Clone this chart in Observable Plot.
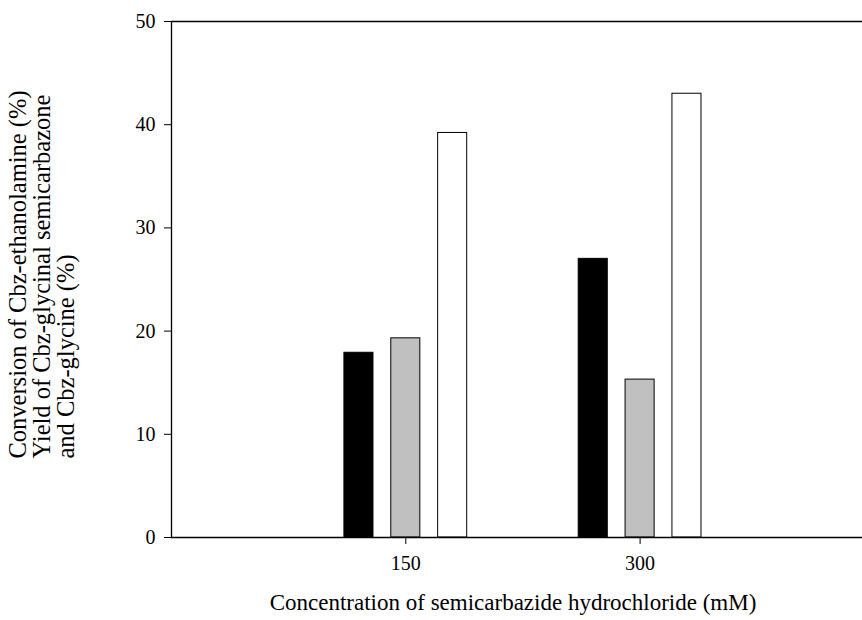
<!DOCTYPE html>
<html>
<head>
<meta charset="utf-8">
<script src="https://cdn.jsdelivr.net/npm/d3@7"></script>
<script src="https://cdn.jsdelivr.net/npm/@observablehq/plot@0.6"></script>
<style>
  html, body { margin: 0; padding: 0; background: #fff; overflow: hidden; }
  #chart svg { display: block; }
</style>
</head>
<body>
<div id="chart"></div>
<script>
// ---- data ----
const concentrations = [150, 300];                       // mM
const seriesNames = ["Conversion of Cbz-ethanolamine", "Yield of Cbz-glycinal semicarbazone", "Yield of Cbz-glycine"];
const conversion = [17.9, 27.0];
const semicarbazoneYield = [19.3, 15.3];
const glycineYield = [39.2, 43.0];
const yTicks = [0, 10, 20, 30, 40, 50];
const xTicks = [150, 300];
const xTitle = "Concentration of semicarbazide hydrochloride (mM)";
const yTitleLines = ["Conversion of Cbz-ethanolamine (%)", "Yield of Cbz-glycinal semicarbazone", "and Cbz-glycine (%)"];

// ---- layout / style ----
const seriesOffset = [-30, 0, 30];     // concentration units from group centre
const barHalf = 9.3;                    // half bar width in concentration units
const fills = ["#000000", "#c0c0c0", "#ffffff"];
const seriesValues = [conversion, semicarbazoneYield, glycineYield];

const rows = [];
concentrations.forEach((c, gi) => {
  seriesValues.forEach((vals, si) => {
    rows.push({
      series: seriesNames[si],
      x1: c + seriesOffset[si] - barHalf,
      x2: c + seriesOffset[si] + barHalf,
      value: vals[gi],
      fill: fills[si]
    });
  });
});

const W = 862, H = 620, ML = 171, MT = 21, MB = 83;
const serif = "'Liberation Serif', 'Times New Roman', serif";

const chart = Plot.plot({
  width: W,
  height: H,
  marginLeft: ML,
  marginRight: 0,
  marginTop: MT,
  marginBottom: MB,
  style: { fontFamily: serif, fontSize: "20px", color: "#000", background: "#fff", overflow: "hidden" },
  x: { domain: [0, 450], range: [ML, ML + 450 * (234.3 / 150)] },
  y: { domain: [0, 50] },
  marks: [
    Plot.rectY(rows, { x1: "x1", x2: "x2", y1: 0, y2: "value", fill: "fill", stroke: "#000", strokeWidth: 1 }),
    Plot.ruleY([0], { stroke: "#000", strokeWidth: 1.6 }),
    Plot.ruleY([50], { stroke: "#000", strokeWidth: 1.3 }),
    Plot.ruleX([0], { y1: 0, y2: 50, stroke: "#000", strokeWidth: 1.3 }),
    Plot.axisY({ ticks: yTicks, tickSize: 7, tickPadding: 9, label: null, tickFormat: d3.format("d"), stroke: "#000", fontSize: 20 }),
    Plot.axisX({ ticks: xTicks, tickSize: 7, tickPadding: 11, label: null, tickFormat: d3.format("d"), stroke: "#000", fontSize: 20 }),
    Plot.text([xTitle], { frameAnchor: "bottom", dy: 72, dx: -4, text: d => d, fill: "#000", fontSize: 23 }),
    Plot.text([yTitleLines.join("\n")], {
      frameAnchor: "left", rotate: -90, textAnchor: "start", lineAnchor: "top", lineHeight: 0.98,
      dx: -163, dy: 179, text: d => d, fill: "#000", fontSize: 24.5
    })
  ]
});

document.getElementById("chart").appendChild(chart);
</script>
</body>
</html>
